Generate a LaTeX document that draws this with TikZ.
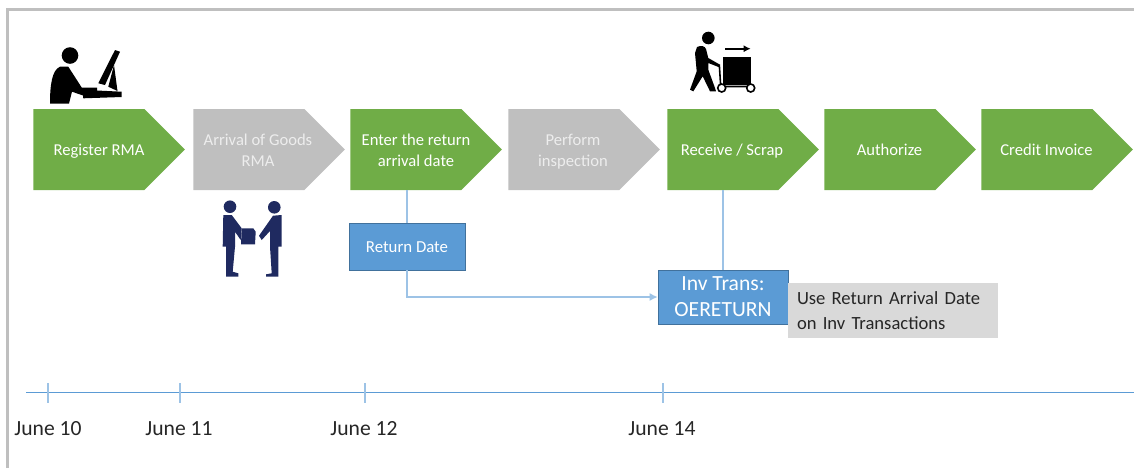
\documentclass[tikz,border=0pt]{standalone}
\usepackage{fontspec}
\setmainfont{Carlito}
\usetikzlibrary{arrows.meta,shapes.symbols}
\definecolor{stepgreen}{HTML}{70AD47}
\definecolor{stepgray}{HTML}{BFBFBF}
\definecolor{boxblue}{HTML}{5B9BD5}
\definecolor{boxedge}{HTML}{41719C}
\definecolor{linkblue}{HTML}{9DC3E6}
\definecolor{notegray}{HTML}{D9D9D9}
\definecolor{framegray}{HTML}{BFBFBF}
\definecolor{peoplenavy}{HTML}{1F2A60}
\tikzset{
  stepshape/.style={signal,signal to=east,signal pointer angle=90,minimum width=75.7pt,minimum height=40.5pt,inner sep=0pt,anchor=west},
  steplabel/.style={align=center,font=\fontsize{8.3pt}{10.6pt}\selectfont,text=white},
  link/.style={linkblue,line width=0.6pt},
  bluebox/.style={fill=boxblue,draw=boxedge,line width=0.4pt,text=white,align=center},
  datelabel/.style={font=\fontsize{10.8pt}{12pt}\selectfont,text=black!85},
}
\begin{document}
\begin{tikzpicture}[x=0.5pt,y=-0.5pt]
    \useasboundingbox (0,0) rectangle (1134,468);

    % frame
    \draw[framegray,line width=1.5pt] (7,468) -- (7,9.5) -- (1134,9.5);

    % process steps
    \foreach \nm/\xpos/\col in {register/33/stepgreen,arrival/193/stepgray,enter/350/stepgreen,inspection/508/stepgray,receive/667/stepgreen,authorize/824/stepgreen,credit/981/stepgreen}
        \node[stepshape,fill=\col] (\nm) at (\xpos,149.5) {};

    \node[steplabel] (registertext) at (99,151) {Register RMA};
    \node[steplabel,text=white!93!black] (arrivaltext) at (258,150) {Arrival of Goods\\RMA};
    \node[steplabel] (entertext) at (416,150) {Enter the return\\arrival date};
    \node[steplabel,text=white!93!black] (inspectiontext) at (573,152) {Perform\\inspection};
    \node[steplabel] (receivetext) at (732,151.5) {Receive / Scrap};
    \node[steplabel] (authorizetext) at (889.5,150) {Authorize};
    \node[steplabel] (credittext) at (1046.5,150) {Credit Invoice};

    % boxes
    \node[bluebox,minimum width=58pt,minimum height=23.5pt,inner sep=0pt,text height=6.1pt,font=\fontsize{8.4pt}{10pt}\selectfont] (returndate) at (407,246.5) {Return Date};
    \node[bluebox,minimum width=65pt,minimum height=27pt,inner sep=0pt,font=\fontsize{10.8pt}{13pt}\selectfont] (invtrans) at (723,297) {Inv Trans:\\OERETURN};
    \node[fill=notegray,minimum width=105pt,minimum height=27.5pt,inner sep=0pt,align=left,text=black!85,font=\fontsize{9.3pt}{11.5pt}\selectfont,text width=96pt] (usenote) at (893,310.5) {\vspace*{1pt}Use Return Arrival Date\\on Inv Transactions};

    % links between steps and boxes
    \draw[link] (enter.south -| returndate.north) to (returndate.north);
    \draw[link] (receive.south -| invtrans.north) to (invtrans.north);
    \draw[link,-{Latex[length=4pt,width=4pt]}] (returndate.south) |- (invtrans.west);

    % time line
    \coordinate (linestart) at (26,392.5);
    \coordinate (lineend) at (1134,392.5);
    \draw[boxblue,line width=0.5pt] (linestart) to (lineend);
    \foreach \nm/\xpos/\txt/\xtxt in {tenth/48/June 10/48,eleventh/180/June 11/179,twelfth/365/June 12/364,fourteenth/663/June 14/662}{
        \coordinate (\nm top) at (\xpos,383);
        \coordinate (\nm bottom) at (\xpos,403);
        \draw[link] (\nm top) to (\nm bottom);
        \node[datelabel] (\nm) at (\xtxt,429) {\txt};
    }

    % person at the desk
    \fill (70,55.5) circle (8.3);
    \fill (50,103.5) .. controls (50,85) and (52,70) .. (60,66.7) -- (68.3,66.7) -- (81.7,87.5) -- (97,87.5) -- (97,90.5) -- (121.7,91.7) -- (121.7,97) -- (83.3,98.3) -- (83,95.5) -- (72,91.7) -- (69,103.5) -- cycle;
    \fill (115,50) -- (120,51.7) -- (105,85) -- (98.3,83.3) -- cycle;
    \fill (114,65) -- (117.5,91) -- (108.3,86.7) -- cycle;

    % people handing over the goods
    \begin{scope}[peoplenavy]
        \fill (230,206.7) circle (6.3);
        \fill (274.3,207.3) circle (6.3);
        \fill (223.3,215) -- (231.7,215) -- (241.7,228.3) -- (240.7,240) -- (235,231.7) -- (235,246.7) -- (232.7,271.7) -- (238.3,273.3) -- (238.3,276.7) -- (226,276.7) -- (226,246.7) -- (222.7,246.7) -- cycle;
        \fill (241.7,228.3) -- (253.3,228.3) -- (255.7,231.7) -- (255,244.3) -- (241,244.3) -- cycle;
        \fill (281.7,215) -- (273,215.7) -- (259,235.7) -- (261.7,240) -- (270,231) -- (270,246.7) -- (271.7,273.3) -- (266,274.3) -- (266,276.7) -- (278.3,276.7) -- (278.3,246.7) -- (281.7,246.7) -- cycle;
    \end{scope}

    % person with the cart
    \fill (708.3,38) circle (6.3);
    \fill (697,47) .. controls (701,45) and (705,46) .. (706,49) -- (708.3,58) -- (720,64.7) -- (719.3,67.3) -- (708.3,63) -- (708.3,69.7) -- (715,88) -- (716,91.3) -- (710,91.3) -- (702.7,76.3) -- (693.3,91.3) -- (690,89.7) -- (696.7,71.3) -- (695,53) -- cycle;
    \draw[line width=0.8pt] (719.3,64.7) -- (720.7,86.5) -- (750.7,86.5);
    \draw[line width=0.8pt,fill=white] (721.7,88) circle (4) (750.7,88) circle (4);
    \fill (723.3,57.3) rectangle (750.7,84.7);
    \draw[line width=0.8pt,-{Latex[length=3.5pt,width=3.5pt]}] (725,48.7) -- (750.7,48.7);

\end{tikzpicture}
\end{document}
